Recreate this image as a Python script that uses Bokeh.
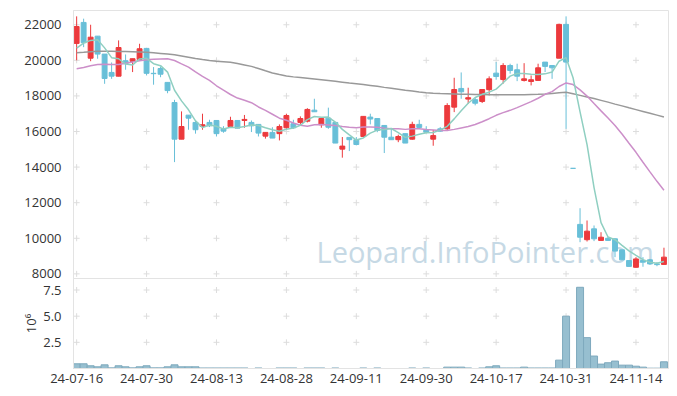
from bokeh.plotting import figure
from bokeh.layouts import column
from bokeh.models import Range1d, FixedTicker, ColumnDataSource, Label, CustomJSTickFormatter
from bokeh.embed import file_html
from bokeh.resources import INLINE

# ---------------- data ----------------
dates = ["24-07-16", "24-07-17", "24-07-18", "24-07-19", "24-07-22", "24-07-23", "24-07-24", "24-07-25",
         "24-07-26", "24-07-29", "24-07-30", "24-07-31", "24-08-01", "24-08-02", "24-08-05", "24-08-06",
         "24-08-07", "24-08-08", "24-08-09", "24-08-12", "24-08-13", "24-08-14", "24-08-16", "24-08-19",
         "24-08-20", "24-08-21", "24-08-22", "24-08-23", "24-08-26", "24-08-27", "24-08-28", "24-08-29",
         "24-08-30", "24-09-02", "24-09-03", "24-09-04", "24-09-05", "24-09-06", "24-09-09", "24-09-10",
         "24-09-11", "24-09-12", "24-09-13", "24-09-19", "24-09-20", "24-09-23", "24-09-24", "24-09-25",
         "24-09-26", "24-09-27", "24-09-30", "24-10-02", "24-10-04", "24-10-07", "24-10-08", "24-10-10",
         "24-10-11", "24-10-14", "24-10-15", "24-10-16", "24-10-17", "24-10-18", "24-10-21", "24-10-22",
         "24-10-23", "24-10-24", "24-10-25", "24-10-28", "24-10-29", "24-10-30", "24-10-31", "24-11-01",
         "24-11-04", "24-11-05", "24-11-06", "24-11-07", "24-11-08", "24-11-11", "24-11-12", "24-11-13",
         "24-11-14", "24-11-15", "24-11-18", "24-11-19", "24-11-20"]

opens = [20950, 22130, 20120, 21360, 20350, 19320, 19110, 19980, 19940, 20050,
         20670, 19270, 19540, 18760, 17630, 15570, 16920, 16510, 16280, 16510,
         16620, 16150, 16280, 16620, 16620, 16510, 16400, 15740, 15950, 15880,
         16210, 16440, 16510, 16580, 17200, 16380, 16750, 16510, 15010, 15670,
         15540, 15720, 16810, 16730, 16340, 15680, 15540, 15880, 15570, 16400,
         16110, 15570, 16150, 16150, 17370, 18420, 17820, 17790, 17690, 18350,
         19280, 18920, 19710, 19470, 18870, 18810, 18870, 19900, 19710, 20120,
         22020, 13930, 10780, 9920, 10530, 9880, 10000, 9970, 9350, 8750,
         8370, 8750, 8790, 8560, 8530]
highs = [22470, 22340, 22000, 21360, 20350, 19880, 21120, 20330, 20090, 20930,
         20700, 19620, 19650, 18760, 17780, 17130, 16920, 16620, 17000, 16660,
         16620, 16300, 16830, 16620, 16930, 16620, 16400, 15950, 16240, 16400,
         17000, 16660, 16850, 17310, 17840, 16730, 17340, 16510, 15690, 15670,
         15690, 16850, 17000, 16730, 16340, 16190, 15820, 15880, 16550, 16660,
         16300, 16090, 16250, 17590, 19020, 19320, 18460, 17900, 18360, 19100,
         19900, 19840, 19810, 19810, 19840, 19150, 19810, 19900, 19710, 22060,
         22470, 13930, 11690, 11000, 10720, 10340, 10080, 10000, 9350, 8750,
         8940, 8940, 8840, 8660, 9470]
lows = [20000, 20740, 19950, 20090, 18680, 18960, 19100, 19470, 19340, 20000,
        19150, 18630, 19050, 18150, 14280, 15570, 16100, 15880, 16100, 16250,
        15720, 15930, 16280, 16190, 16210, 15970, 15720, 15600, 15630, 15500,
        16150, 16150, 16340, 16510, 17110, 16210, 16150, 15350, 14530, 14900,
        15220, 15720, 16400, 15960, 14790, 15540, 15400, 15350, 15540, 16150,
        15900, 15200, 15980, 16060, 17090, 17840, 17560, 17470, 17600, 18030,
        18910, 18690, 19250, 18830, 18810, 18590, 18870, 19340, 18960, 20120,
        16150, 13930, 9780, 9820, 9840, 9880, 9860, 8940, 8790, 8420,
        8350, 8400, 8500, 8430, 8530]
closes = [21900, 20990, 21300, 20350, 18980, 19110, 20720, 19810, 20090, 20650,
          19270, 19250, 19220, 18300, 15570, 16280, 16750, 16100, 16380, 16320,
          15880, 16020, 16620, 16190, 16680, 16320, 15910, 15950, 15630, 16280,
          16900, 16210, 16730, 17240, 17110, 16730, 16240, 15350, 15180, 15540,
          15270, 16850, 16700, 16060, 15680, 15540, 15720, 15350, 16400, 16230,
          15960, 15770, 16020, 17460, 18360, 18230, 17900, 17590, 18360, 18960,
          19090, 19710, 19430, 19110, 18960, 18910, 19580, 19660, 19580, 22020,
          19900, 13930, 10060, 10400, 9970, 10060, 9880, 9280, 8790, 8420,
          8840, 8660, 8560, 8520, 8940]
volumes = [450000, 450000, 260000, 160000, 350000, 60000, 260000, 160000, 60000, 160000,
           260000, 60000, 60000, 160000, 350000, 160000, 160000, 160000, 50000, 50000,
           50000, 50000, 50000, 50000, 50000, 0, 50000, 0, 0, 50000,
           50000, 50000, 0, 50000, 50000, 50000, 0, 50000, 0, 0,
           0, 50000, 0, 50000, 0, 0, 0, 0, 50000, 0,
           50000, 0, 0, 130000, 130000, 130000, 50000, 0, 50000, 160000,
           260000, 50000, 50000, 50000, 130000, 50000, 50000, 50000, 50000, 800000,
           5000000, 0, 7760000, 2950000, 1190000, 420000, 550000, 710000, 320000, 320000,
           220000, 130000, 30000, 30000, 640000]

ma5 = [20690, 20970, 21120, 21160, 20700, 20150, 20090, 19790, 19740, 20080,
       20110, 19810, 19700, 19340, 18320, 17720, 17220, 16600, 16220, 16370,
       16290, 16140, 16240, 16210, 16280, 16370, 16340, 16210, 16100, 16020,
       16130, 16190, 16350, 16670, 16840, 16800, 16810, 16530, 16120, 15810,
       15520, 15640, 15910, 16080, 16110, 16170, 15940, 15670, 15740, 15850,
       15930, 15940, 16080, 16290, 16710, 17170, 17590, 17910, 18090, 18210,
       18380, 18740, 19110, 19260, 19260, 19220, 19200, 19240, 19340, 19950,
       20150, 19020, 17100, 15260, 12850, 10880, 10070, 9920, 9600, 9290,
       9040, 8800, 8650, 8600, 8700]
ma20 = [19530, 19600, 19700, 19770, 19780, 19770, 19770, 19830, 19900, 19970,
        20030, 20060, 20080, 20090, 19990, 19800, 19620, 19350, 19100, 18870,
        18570, 18320, 18080, 17880, 17760, 17620, 17380, 17190, 16970, 16750,
        16630, 16480, 16350, 16300, 16380, 16400, 16370, 16340, 16280, 16240,
        16210, 16250, 16250, 16240, 16190, 16160, 16150, 16120, 16150, 16150,
        16110, 16080, 16050, 16060, 16120, 16200, 16280, 16390, 16550, 16720,
        16910, 17060, 17190, 17340, 17510, 17680, 17870, 18090, 18240, 18530,
        18730, 18640, 18340, 17990, 17570, 17160, 16760, 16340, 15860, 15340,
        14830, 14270, 13730, 13200, 12700]
ma120 = [20430, 20450, 20480, 20510, 20510, 20510, 20500, 20490, 20480, 20470,
         20460, 20430, 20390, 20350, 20310, 20240, 20170, 20100, 20040, 19990,
         19950, 19920, 19890, 19820, 19740, 19660, 19540, 19410, 19290, 19200,
         19120, 19070, 19030, 18990, 18950, 18910, 18870, 18820, 18770, 18720,
         18680, 18640, 18590, 18540, 18480, 18430, 18380, 18320, 18270, 18220,
         18180, 18150, 18130, 18120, 18110, 18100, 18090, 18080, 18080, 18070,
         18070, 18060, 18060, 18060, 18070, 18080, 18090, 18110, 18140, 18180,
         18200, 18120, 18030, 17940, 17850, 17750, 17650, 17540, 17440, 17330,
         17230, 17130, 17030, 16920, 16810]

price_ticks = [8000, 10000, 12000, 14000, 16000, 18000, 20000, 22000]
volume_ticks = [2500000, 5000000, 7500000]
date_tick_step = 10

# ---------------- styling ----------------
UP = "#ec3a3d"
DOWN = "#68bfd8"
FONT = "Open Sans"
LABEL_COLOR = "#333333"
FRAME = "#e3e3e3"
OVERLAP = 8   # main canvas extends below its frame, under the volume panel

idx = list(range(len(dates)))
colors = [UP if c > o else DOWN for o, c in zip(opens, closes)]
src = ColumnDataSource(dict(
    x=idx, o=opens, h=highs, l=lows, c=closes,
    top=[max(o, c) for o, c in zip(opens, closes)],
    bot=[min(o, c) for o, c in zip(opens, closes)],
    color=colors, ma5=ma5, ma20=ma20, ma120=ma120))

xr = Range1d(-0.45, 84.65)

p = figure(width=677, height=278 + OVERLAP, x_range=xr, y_range=Range1d(7740, 22800),
           output_backend="svg", toolbar_location=None,
           min_border_left=73, min_border_right=9, min_border_top=10, min_border_bottom=OVERLAP)
p.xaxis.visible = False
p.grid.visible = False
p.outline_line_color = FRAME
p.background_fill_color = "white"

date_ticks = idx[::date_tick_step]

# cross marks at tick intersections
cx = [t for t in date_ticks for v in price_ticks]
cy = [v for t in date_ticks for v in price_ticks]
p.scatter(cx, cy, marker="cross", size=6, line_color="#dddddd", line_width=1)

wm = Label(x=243, y=27, x_units="screen", y_units="screen", text="Leopard.InfoPointer.com",
           text_font=FONT, text_font_size="29px", text_color="#c6d9e5",
           text_baseline="alphabetic", level="underlay")
p.add_layout(wm)

p.segment(x0="x", y0="h", x1="x", y1="l", color="color", line_width=1, source=src)
p.vbar(x="x", width=0.7, top="top", bottom="bot", fill_color="color", line_color="color",
       line_width=1, source=src)
p.line("x", "ma120", color="#999999", line_width=1.5, source=src)
p.line("x", "ma20", color="#cc8fc9", line_width=1.5, source=src)
p.line("x", "ma5", color="#8fcfc1", line_width=1.5, source=src)

p.yaxis.ticker = FixedTicker(ticks=price_ticks)
p.yaxis.major_tick_line_color = None
p.yaxis.minor_tick_line_color = None
p.yaxis.axis_line_color = FRAME
p.yaxis.major_label_standoff = 6
p.yaxis.major_label_text_font = FONT
p.yaxis.major_label_text_font_size = "13px"
p.yaxis.major_label_text_color = LABEL_COLOR

# ---------------- volume panel ----------------
vol_idx = [i for i in idx if volumes[i] > 0]
vsrc = ColumnDataSource(dict(x=vol_idx, v=[volumes[i] for i in vol_idx]))

v = figure(width=677, height=118, x_range=xr, y_range=Range1d(0, 8600000),
           output_backend="svg", toolbar_location=None,
           min_border_left=73, min_border_right=9, min_border_top=0, min_border_bottom=28)
v.margin = (-OVERLAP, 0, 0, 0)
v.grid.visible = False
v.outline_line_color = FRAME
vx = [t for t in date_ticks for val in volume_ticks]
vy = [val for t in date_ticks for val in volume_ticks]
v.scatter(vx, vy, marker="cross", size=6, line_color="#dddddd", line_width=1)
v.vbar(x="x", width=1.0, top="v", bottom=0, fill_color="#97bfd0", line_color="#7ea9bd",
       line_width=1, source=vsrc)

v.yaxis.ticker = FixedTicker(ticks=volume_ticks)
v.yaxis.formatter = CustomJSTickFormatter(code="return (tick / 1e6).toFixed(1);")
v.yaxis.axis_label = "10⁶"
v.yaxis.axis_label_text_font = FONT
v.yaxis.axis_label_text_font_size = "13px"
v.yaxis.axis_label_text_font_style = "normal"
v.yaxis.axis_label_text_color = LABEL_COLOR
v.yaxis.axis_label_standoff = 0
v.yaxis.major_tick_line_color = None
v.yaxis.minor_tick_line_color = None
v.yaxis.axis_line_color = FRAME
v.yaxis.major_label_standoff = 6
v.yaxis.major_label_text_font = FONT
v.yaxis.major_label_text_font_size = "13px"
v.yaxis.major_label_text_color = LABEL_COLOR

v.xaxis.ticker = FixedTicker(ticks=date_ticks)
v.xaxis.major_label_overrides = {t: dates[t] for t in date_ticks}
v.xaxis.major_tick_line_color = None
v.xaxis.minor_tick_line_color = None
v.xaxis.axis_line_color = FRAME
v.xaxis.major_label_standoff = -1
v.xaxis.major_label_text_font = FONT
v.xaxis.major_label_text_font_size = "13px"
v.xaxis.major_label_text_color = LABEL_COLOR

layout = column(p, v, spacing=0)
open("out.html", "w").write(file_html(layout, INLINE))
